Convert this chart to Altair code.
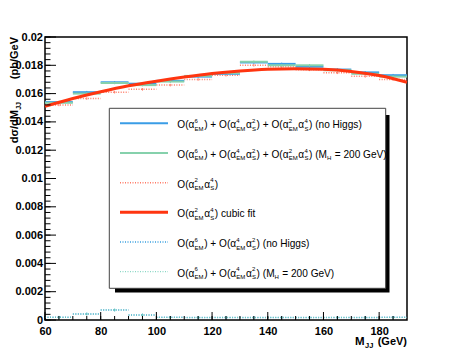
import altair as alt
import pandas as pd

# ---------------- data ----------------
bin_lo = [60, 70, 80, 90, 100, 110, 120, 130, 140, 150, 160, 170, 180]
bin_hi = [70, 80, 90, 100, 110, 120, 130, 140, 150, 160, 170, 180, 190]
full_nohiggs = [0.0154, 0.0161, 0.0168, 0.0167, 0.0169, 0.0172, 0.0174, 0.0182, 0.0181, 0.0179, 0.0177, 0.0175, 0.0173]
full_mh200 = [0.01535, 0.0160, 0.01675, 0.0166, 0.01685, 0.01725, 0.01745, 0.01825, 0.0180, 0.0180, 0.01765, 0.0174, 0.0172]
qcd = [0.0152, 0.01565, 0.0161, 0.0163, 0.0166, 0.0170, 0.0173, 0.0180, 0.0179, 0.01768, 0.01747, 0.01722, 0.0170]
fit_x = [60, 70, 80, 90, 100, 110, 120, 130, 140, 150, 160, 170, 180, 190]
fit_y = [0.0151, 0.01565, 0.01613, 0.01655, 0.01688, 0.01717, 0.01742, 0.0176, 0.01772, 0.01776, 0.01772, 0.01757, 0.01728, 0.0168]
ew_nohiggs = [0.0002, 0.00043, 0.0007, 0.00036, 0.00019, 0.00018, 0.00017, 0.00018, 0.00017, 0.00018, 0.00017, 0.00018, 0.00019]
ew_mh200 = [0.00019, 0.00042, 0.00071, 0.00035, 0.00018, 0.00017, 0.00018, 0.00017, 0.00018, 0.00017, 0.00018, 0.00017, 0.00018]
x_labels = [60, 80, 100, 120, 140, 160, 180]
y_labels = [0, 0.002, 0.004, 0.006, 0.008, 0.01, 0.012, 0.014, 0.016, 0.018, 0.02]
x_minor = [60, 65, 70, 75, 80, 85, 90, 95, 100, 105, 110, 115, 120, 125, 130, 135, 140, 145, 150, 155, 160, 165, 170, 175, 180, 185]
y_minor = [round(i * 0.0004, 5) for i in range(51)]

# ---------------- style ----------------
FONT = "Liberation Sans, Arial, sans-serif"
W, H = 362, 283
BLUE = "#3a9de6"
GREEN = "#86d1ac"
PINK = "#ff7a66"
RED = "#ff3510"
BLUE_D = "#3aa0e0"
GREEN_D = "#70cdb8"

xs = alt.Scale(domain=[60, 190], nice=False, zero=False)
ys = alt.Scale(domain=[0, 0.02], nice=False, zero=False)
xax = alt.Axis(values=x_labels, title=None, domain=False, ticks=False, tickSize=0, grid=False,
               labelFont=FONT, labelFontWeight="bold", labelFontSize=11, labelPadding=5,
               labelColor="black", labelFlush=False)
yax = alt.Axis(values=y_labels, format="~g", title=None, domain=False, ticks=False, tickSize=0, grid=False,
               labelFont=FONT, labelFontWeight="bold", labelFontSize=11, labelPadding=2.5,
               labelColor="black")


def hist(vals):
    return pd.DataFrame({"lo": bin_lo, "hi": bin_hi,
                         "c": [(a + b) / 2 for a, b in zip(bin_lo, bin_hi)],
                         "v": vals})


def X(f):
    return alt.X(f, type="quantitative", scale=xs, axis=xax)


def Y(f):
    return alt.Y(f, type="quantitative", scale=ys, axis=yax)


def step_layer(vals, color, width, dash=None):
    kw = dict(color=color, strokeWidth=width)
    if dash:
        kw["strokeDash"] = dash
    seg = alt.Chart(hist(vals)).mark_rule(**kw).encode(x=X("lo"), x2="hi", y=Y("v"))
    err = alt.Chart(hist(vals)).transform_calculate(
        a="datum.v - 0.00009", b="datum.v + 0.00009"
    ).mark_rule(color=color, strokeWidth=1).encode(x=X("c"), y=Y("a:Q"), y2="b:Q")
    return [seg, err]


layers = []
layers += step_layer(qcd, PINK, 1.5, [1, 1.5])
layers += step_layer(full_nohiggs, BLUE, 2)
layers += step_layer(full_mh200, GREEN, 2)
layers += step_layer(ew_nohiggs, BLUE_D, 1.5, [1, 1.5])
layers += step_layer(ew_mh200, GREEN_D, 1, [1, 1.5])

fit_df = pd.DataFrame({"x": fit_x, "y": fit_y})
layers.append(alt.Chart(fit_df).mark_line(color=RED, strokeWidth=3, interpolate="monotone").encode(
    x=X("x"), y=Y("y")))

# ticks drawn inside the frame (ROOT style)
ymaj = pd.DataFrame({"v": y_labels})
ymin = pd.DataFrame({"v": y_minor})
xmaj = pd.DataFrame({"v": x_labels})
xmin = pd.DataFrame({"v": x_minor})
layers.append(alt.Chart(ymaj).mark_rule(color="black", strokeWidth=1).encode(y=Y("v"), x=alt.value(0), x2=alt.value(11)))
layers.append(alt.Chart(ymin).mark_rule(color="black", strokeWidth=1).encode(y=Y("v"), x=alt.value(0), x2=alt.value(5.5)))
layers.append(alt.Chart(xmaj).mark_rule(color="black", strokeWidth=1).encode(x=X("v"), y=alt.value(H), y2=alt.value(H - 8)))
layers.append(alt.Chart(xmin).mark_rule(color="black", strokeWidth=1).encode(x=X("v"), y=alt.value(H), y2=alt.value(H - 4)))

one = pd.DataFrame({"a": [1]})

# ---------------- legend ----------------
CW = {' ': 278, '(': 333, ')': 333, '+': 584, '=': 584, '/': 278, '.': 278,
      '0': 556, '1': 556, '2': 556, '3': 556, '4': 556, '5': 556, '6': 556, '7': 556, '8': 556, '9': 556,
      'E': 667, 'G': 778, 'H': 722, 'J': 500, 'M': 833, 'O': 778, 'S': 667, 'V': 667,
      'a': 556, 'b': 556, 'c': 500, 'd': 556, 'e': 556, 'f': 278, 'g': 556, 'i': 222, 'n': 556,
      'o': 556, 'p': 556, 's': 500, 't': 278, 'u': 556, 'α': 600, 'σ': 600}


def tw(s, size):
    return sum(CW.get(ch, 556) for ch in s) / 1000.0 * size


def text_layer(txt, px, py, size, bold=False, angle=0, align="left", color="black"):
    kw = dict(text=txt, font=FONT, fontSize=size, align=align, baseline="alphabetic", color=color)
    if bold:
        kw["fontWeight"] = "bold"
    if angle:
        kw["angle"] = angle
    return alt.Chart(one).mark_text(**kw).encode(x=alt.value(px), y=alt.value(py))


MAIN, SUB = 10.1, 6.0


def entry_layers(segs, x0, base):
    out = []
    x = x0
    for seg in segs:
        if seg[0] == "t":
            s = seg[1]
            stripped = s.lstrip(" ")
            x += tw(s[: len(s) - len(stripped)], MAIN)
            out.append(text_layer(stripped, x, base, MAIN))
            x += tw(stripped, MAIN)
        else:
            sup, sub = seg[1], seg[2]
            if sup:
                out.append(text_layer(sup, x, base - 5.3, SUB))
            if sub:
                out.append(text_layer(sub, x, base + 2.5, SUB))
            x += max(tw(sup, SUB), tw(sub, SUB)) + 0.6
    return out


e_full = [("t", "O(α"), ("s", "6", "EM"), ("t", ") + O(α"), ("s", "4", "EM"), ("t", "α"), ("s", "2", "S"),
          ("t", ") + O(α"), ("s", "2", "EM"), ("t", "α"), ("s", "4", "S")]
e_ew = [("t", "O(α"), ("s", "6", "EM"), ("t", ") + O(α"), ("s", "4", "EM"), ("t", "α"), ("s", "2", "S")]
e_qcd = [("t", "O(α"), ("s", "2", "EM"), ("t", "α"), ("s", "4", "S")]
entries = [
    (e_full + [("t", ") (no Higgs)")], BLUE, 2, None),
    (e_full + [("t", ") (M"), ("s", "", "H"), ("t", " = 200 GeV)")], GREEN, 2, None),
    (e_qcd + [("t", ")")], PINK, 1.5, [1, 1.5]),
    (e_qcd + [("t", ") cubic fit")], RED, 3, None),
    (e_ew + [("t", ")  (no Higgs)")], BLUE_D, 1.5, [1, 1.5]),
    (e_ew + [("t", ") (M"), ("s", "", "H"), ("t", " = 200 GeV)")], GREEN_D, 1, [1, 1.5]),
]

# shadow and box (plot coordinates, px)
layers.append(alt.Chart(one).mark_rect(color="black").encode(
    x=alt.value(70), x2=alt.value(344.5), y=alt.value(78), y2=alt.value(255.5)))
layers.append(alt.Chart(one).mark_rect(fill="white", stroke="#444444", strokeWidth=1).encode(
    x=alt.value(64.3), x2=alt.value(340.7), y=alt.value(71.3), y2=alt.value(251.3)))

for i, (segs, col, sw, dash) in enumerate(entries):
    cy = 86.3 + i * 29.68
    kw = dict(color=col, strokeWidth=sw)
    if dash:
        kw["strokeDash"] = dash
    layers.append(alt.Chart(one).mark_rule(**kw).encode(
        x=alt.value(75), x2=alt.value(123), y=alt.value(cy)))
    layers += entry_layers(segs, 132.3, cy + 5.0)

# ---------------- axis titles ----------------
layers.append(text_layer("(pb/GeV", -27.5, 0, 11, bold=True, angle=270, align="right"))
layers.append(text_layer("JJ", -24.5, 65, 7, bold=True, angle=270, align="right"))
layers.append(text_layer("dσ/dM", -27.5, 73, 11, bold=True, angle=270, align="right"))
layers.append(text_layer("M", 310, 308, 11.5, bold=True))
layers.append(text_layer("JJ", 320, 311, 7.5, bold=True))
layers.append(text_layer("(GeV)", 362, 308, 11, bold=True, align="right"))

chart = alt.layer(*layers).properties(
    width=W, height=H,
    autosize=alt.AutoSizeParams(type="none"),
    padding={"left": 37, "top": 29, "right": 37, "bottom": 32},
    background="white",
).configure_view(stroke="black", strokeWidth=1.5)

chart.save("out.html", embed_options={"renderer": "svg", "actions": False})
